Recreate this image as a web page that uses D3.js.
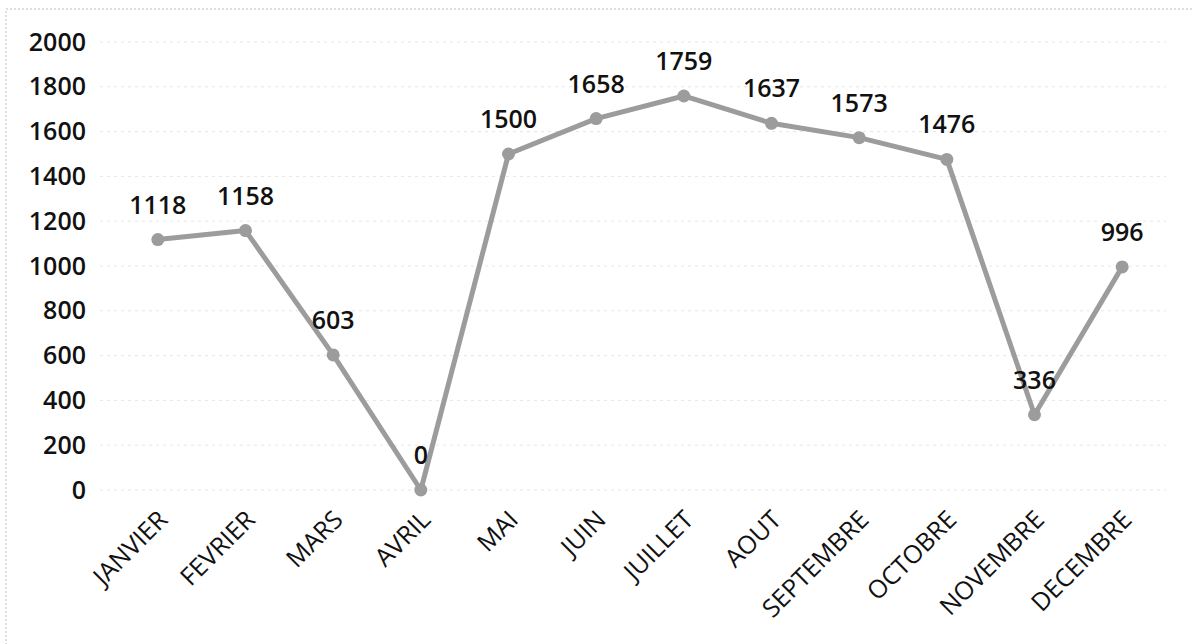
<!DOCTYPE html>
<html>
<head>
<meta charset="utf-8">
<script src="https://cdn.jsdelivr.net/npm/d3@7"></script>
<style>
  body { margin: 0; background: #fff; }
  text { font-family: "Open Sans", sans-serif; fill: #111; }
</style>
</head>
<body>
<svg width="1194" height="644"></svg>
<script>
const months = ['JANVIER', 'FEVRIER', 'MARS', 'AVRIL', 'MAI', 'JUIN', 'JUILLET', 'AOUT', 'SEPTEMBRE', 'OCTOBRE', 'NOVEMBRE', 'DECEMBRE'];
const values = [1118, 1158, 603, 0, 1500, 1658, 1759, 1637, 1573, 1476, 336, 996];
const yTicks = [0, 200, 400, 600, 800, 1000, 1200, 1400, 1600, 1800, 2000];

const svg = d3.select('svg');

// chart frame (dotted, like the scan)
svg.append('rect')
  .attr('x', 6).attr('y', 9)
  .attr('width', 1200).attr('height', 640)
  .attr('fill', 'none')
  .attr('stroke', '#bdbdbd')
  .attr('stroke-width', 1)
  .attr('stroke-dasharray', '2,2');

const x = d3.scaleBand().domain(months).range([114, 1166]);
const y = d3.scaleLinear().domain([0, 2000]).range([490, 42]);

// faint gridlines
svg.append('g')
  .selectAll('line')
  .data(yTicks)
  .enter()
  .append('line')
  .attr('x1', 100)
  .attr('x2', 1166)
  .attr('y1', (d) => y(d))
  .attr('y2', (d) => y(d))
  .attr('stroke', '#e6e6e6')
  .attr('stroke-width', 1)
  .attr('stroke-dasharray', '3,4');

// y axis labels
const yAxis = svg.append('g')
  .attr('transform', 'translate(86,0)')
  .call(d3.axisLeft(y).tickValues(yTicks).tickFormat(d3.format('d')).tickSize(0).tickPadding(0));
yAxis.select('.domain').remove();
yAxis.selectAll('text')
  .attr('font-size', 25)
  .attr('font-weight', 600)
  .attr('fill', '#111')
  .style('font-family', '"Open Sans", sans-serif');

// x axis labels
const xAxis = svg.append('g')
  .attr('transform', 'translate(0,508)')
  .call(d3.axisBottom(x).tickSize(0).tickPadding(0));
xAxis.select('.domain').remove();
xAxis.selectAll('text')
  .attr('font-size', 25)
  .attr('font-weight', 500)
  .attr('fill', '#111')
  .style('font-family', '"Open Sans", sans-serif')
  .attr('text-anchor', 'end')
  .attr('dy', '0.75em')
  .attr('transform', 'translate(-2,0) rotate(-45)');

const cx = (d, i) => x(months[i]) + x.bandwidth() / 2;

const line = d3.line()
  .x((d, i) => x(months[i]) + x.bandwidth() / 2)
  .y((d) => y(d));

svg.append('path')
  .datum(values)
  .attr('d', line)
  .attr('fill', 'none')
  .attr('stroke', '#9c9c9c')
  .attr('stroke-width', 5)
  .attr('stroke-linejoin', 'round');

svg.selectAll('.dot')
  .data(values)
  .enter()
  .append('circle')
  .classed('dot', true)
  .attr('cx', cx)
  .attr('cy', (d) => y(d))
  .attr('r', 6.5)
  .attr('fill', '#9c9c9c');

svg.selectAll('.label')
  .data(values)
  .enter()
  .append('text')
  .classed('label', true)
  .text((d) => d)
  .attr('x', cx)
  .attr('y', (d) => y(d) - 26)
  .attr('text-anchor', 'middle')
  .attr('font-size', 25)
  .attr('font-weight', 600);
</script>
</body>
</html>
